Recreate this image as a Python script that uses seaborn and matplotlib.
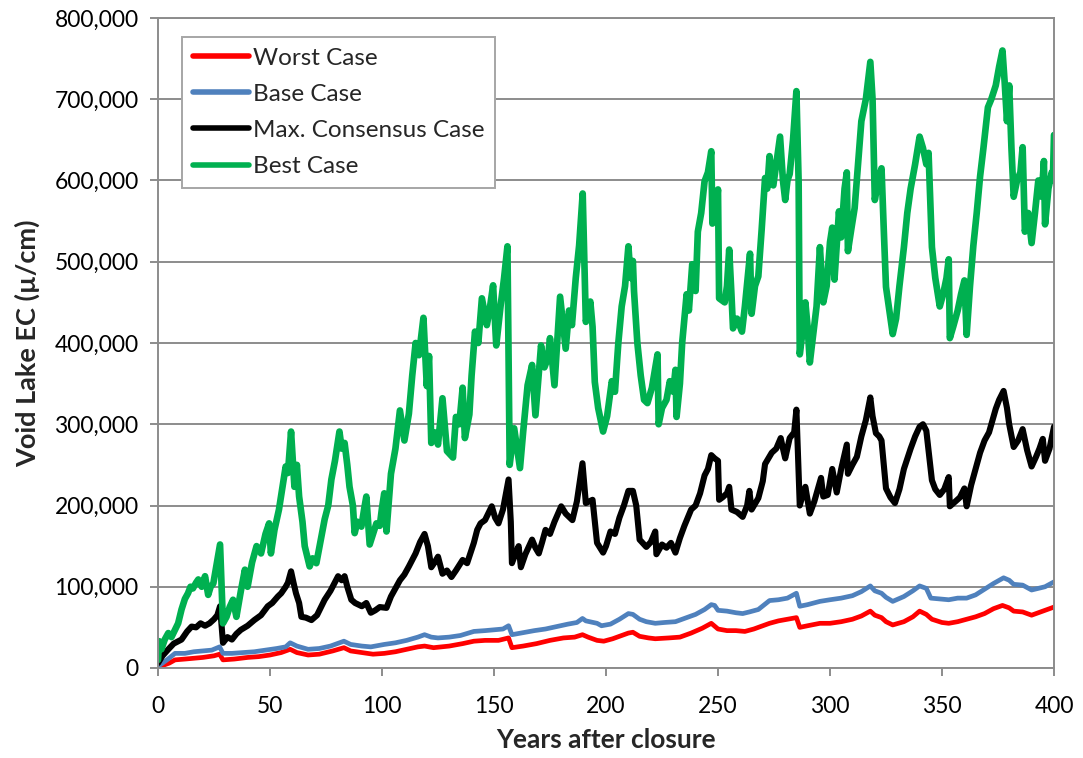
import matplotlib
matplotlib.use("Agg")
import matplotlib.pyplot as plt
import matplotlib.ticker as mticker
import seaborn as sns
import pandas as pd

# ---------------- data (thousands of µ/cm) ----------------
green_years = [0, 0.5, 1.5, 3, 4.6, 6, 7.6, 9, 10.5, 12, 13.4, 14.5, 15.6, 17, 18, 19.5, 21, 22.4, 23.5, 24.7,
               26, 27.7, 28.5, 29, 30.6, 32, 33.5, 35, 37, 38.8, 40, 42, 44, 46, 48, 49.6, 50.4, 52, 54, 55.6,
               57, 58, 59.4, 60.9, 62, 63, 64.5, 65.5, 67.7, 69, 70.7, 72.5, 74.4, 76, 77.4, 79, 81, 82, 83.3, 84.5,
               85.5, 87, 87.8, 89, 90.8, 92, 93, 94.5, 96, 97.5, 99, 100, 101, 102, 104, 106, 108, 110, 112, 113.5,
               115, 116.5, 118.5, 120, 121, 122, 123.5, 125, 127, 129, 131.7, 133, 134.5, 136, 137, 139, 140, 141.5, 143, 144.6,
               146.8, 148, 149.6, 151, 153, 154.5, 156, 157, 159, 161.6, 163, 165, 167, 168.5, 171, 172.5, 174, 175, 177, 179.5,
               182, 183.5, 184.8, 186.5, 188, 189.6, 191, 193, 194, 195, 196.5, 198.7, 200.5, 202.6, 204, 205.5, 207, 208.5, 210, 211,
               212, 212.5, 214, 215.5, 217, 218.5, 220.5, 222, 223, 223.5, 225, 227, 228.5, 230, 231, 231.5, 233, 234, 236, 237,
               238.5, 240, 241, 242.5, 244, 245.5, 247, 247.5, 249, 250, 250.5, 253, 254, 255, 256, 256.7, 258.5, 260.7, 262, 263,
               264.3, 265, 266.5, 268, 269.5, 271, 272, 273, 274.7, 276, 277.7, 279, 280, 281, 282, 283.5, 285, 286, 286.5, 288,
               289, 290, 291, 292.5, 294, 295.5, 297, 298.5, 300, 301, 302, 304, 305, 306.5, 307.5, 308, 309.5, 311, 312.5, 314,
               316, 318, 319, 320, 321.5, 323, 324, 325, 326.5, 328, 329.5, 331, 333, 334.5, 336, 338, 340, 341.5, 343, 344,
               345.5, 347, 349, 350.5, 352, 353, 353.5, 355, 357, 358.5, 360, 361, 362.5, 364, 365.5, 367, 368.5, 370.5, 372, 374,
               375.5, 377, 378, 379, 380, 381, 382, 383.5, 385, 386, 387, 388.5, 390, 391.5, 393, 394.5, 395.5, 396, 397.5, 399,
               399.5, 400]
green_vals = [10, 33, 23, 35, 43, 38, 47, 55, 72, 85, 92, 100, 98, 105, 109, 100, 113, 90, 100, 104,
              125, 152, 90, 55, 63, 75, 84, 63, 95, 121, 100, 130, 150, 141, 165, 178, 141, 170, 195, 223,
              248, 240, 291, 223, 250, 211, 180, 150, 125, 135, 129, 155, 183, 200, 232, 255, 291, 270, 277, 250,
              223, 200, 166, 180, 174, 195, 211, 152, 165, 178, 175, 197, 215, 168, 239, 270, 317, 280, 313, 360,
              400, 385, 431, 347, 384, 277, 290, 275, 332, 267, 259, 309, 300, 345, 283, 312, 360, 414, 400, 455,
              422, 440, 471, 397, 447, 480, 519, 250, 295, 246, 290, 348, 373, 311, 397, 370, 381, 406, 348, 457,
              393, 440, 422, 480, 520, 584, 426, 451, 420, 352, 320, 291, 310, 353, 340, 400, 445, 470, 519, 480,
              501, 464, 400, 360, 330, 326, 345, 370, 386, 300, 320, 330, 353, 340, 367, 309, 350, 400, 460, 440,
              497, 464, 537, 560, 599, 610, 636, 547, 560, 589, 455, 450, 470, 515, 460, 418, 430, 414, 445, 473,
              510, 436, 470, 482, 540, 603, 590, 630, 594, 620, 654, 600, 576, 600, 608, 650, 710, 598, 386, 420,
              450, 420, 376, 410, 445, 518, 450, 470, 524, 542, 478, 562, 530, 590, 610, 513, 540, 566, 620, 673,
              700, 746, 700, 576, 600, 615, 540, 469, 440, 411, 430, 470, 518, 560, 590, 620, 654, 640, 620, 634,
              518, 480, 445, 460, 480, 503, 406, 420, 440, 460, 477, 410, 470, 520, 560, 605, 640, 690, 700, 717,
              740, 760, 720, 673, 717, 640, 580, 600, 610, 641, 537, 560, 523, 560, 600, 580, 624, 546, 590, 610,
              600, 656]

black_years = [0, 2, 4.6, 7, 10.5, 13, 15, 17, 19, 21, 23, 25, 26.5, 27.7, 29, 31, 33, 35, 37, 40,
               43, 46, 49, 51, 53.5, 55, 57, 58, 59.4, 60.5, 61.6, 63, 64, 66, 68.5, 71, 74.4, 77, 80.4, 82,
               83.3, 84.5, 86.3, 88, 91, 93, 95, 97, 99, 102, 104, 106, 108, 110, 112, 115, 117, 119, 120.5, 122,
               123.5, 125, 127, 129, 131, 133, 136, 138, 141, 142.5, 144, 146, 149, 150.5, 152, 154, 156.5, 157.5, 158, 159.5,
               161, 162, 164, 167, 168.5, 170, 171.5, 173, 175, 177, 180, 182, 185, 187, 189.5, 191, 194, 196, 198.7, 200,
               202, 204, 206, 208, 210, 212, 213.5, 215, 218, 220, 222, 222.5, 225, 227, 229, 231, 233, 235, 238, 240,
               242, 244, 245.5, 247, 248.5, 250, 250.5, 252, 254, 255, 256, 258.5, 261, 263, 264, 265, 268, 270, 271, 272.5,
               274, 276, 278, 279, 280, 282, 284, 285, 286.5, 288, 289, 291, 293, 296, 297, 299, 301, 303, 305, 307.5,
               308, 310, 312, 314, 316, 318, 319, 320.5, 322, 323, 325, 327, 329, 331, 333, 336, 338, 340, 341.5, 343,
               345.5, 347, 349, 351, 353, 353.5, 356, 358, 360, 361, 363, 365, 367, 369, 371, 374, 375.5, 377.5, 379, 380,
               382, 384, 386, 388, 390, 392, 393.5, 395, 396, 398, 400]
black_vals = [6, 15, 23, 30, 35, 45, 51, 50, 55, 52, 55, 60, 65, 76, 31, 38, 35, 42, 47, 52,
              59, 65, 76, 80, 88, 92, 100, 105, 119, 105, 92, 80, 63, 62, 59, 65, 84, 95, 113, 108,
              113, 100, 84, 80, 76, 80, 68, 71, 75, 74, 88, 98, 108, 115, 125, 141, 155, 165, 150, 124,
              130, 137, 116, 120, 112, 120, 133, 129, 154, 170, 178, 182, 199, 185, 178, 195, 232, 180, 129, 140,
              150, 124, 140, 158, 148, 141, 155, 170, 165, 180, 199, 190, 182, 205, 252, 203, 207, 154, 142, 150,
              168, 165, 185, 200, 218, 218, 200, 158, 149, 155, 168, 140, 152, 148, 154, 142, 160, 175, 195, 200,
              215, 237, 245, 262, 258, 255, 207, 210, 215, 223, 195, 192, 186, 200, 218, 195, 209, 230, 251, 258,
              265, 270, 283, 270, 258, 283, 290, 318, 200, 215, 223, 190, 205, 234, 211, 213, 245, 216, 245, 275,
              239, 250, 260, 285, 305, 333, 310, 289, 285, 280, 221, 210, 203, 220, 245, 270, 285, 297, 300, 292,
              231, 220, 213, 220, 235, 199, 205, 210, 221, 199, 225, 245, 265, 280, 290, 319, 330, 341, 320, 300,
              272, 280, 294, 268, 248, 260, 270, 282, 255, 270, 297]

blue_years = [0, 2, 4, 7.6, 12, 16, 20, 24, 27.5, 29, 33, 38, 43, 48, 53, 57, 59, 62, 67, 72,
              77, 83, 86, 91, 95, 97, 101, 106, 111, 116, 119, 122, 125, 130, 135, 141, 146, 150, 154, 156.5,
              158, 162, 168, 173, 178, 183, 187, 189.5, 191, 196, 198, 202, 206, 210, 212, 215, 218, 222, 226, 231,
              236, 240, 244, 247, 248.5, 250, 254, 258, 261, 264, 268, 273, 277, 281, 285, 286.5, 290, 295.5, 300, 305,
              310, 314, 318, 320, 323, 325, 328, 333, 337, 340, 343, 345, 349, 353, 357, 361, 365, 369, 373, 377.5,
              380, 382, 386, 390, 393, 396, 400]
blue_vals = [2, 6, 10, 18, 18, 20, 21, 22, 26, 18, 18, 19, 20, 22, 24, 26, 31, 27, 23, 24,
             27, 33, 29, 27, 26, 27, 29, 31, 34, 38, 41, 38, 37, 38, 40, 45, 46, 47, 48, 52,
             41, 43, 46, 48, 51, 54, 56, 61, 58, 55, 52, 54, 60, 67, 66, 60, 57, 55, 56, 57,
             62, 66, 72, 78, 77, 71, 70, 68, 67, 69, 72, 83, 84, 86, 92, 76, 78, 82, 84, 86,
             89, 94, 101, 95, 92, 87, 82, 88, 95, 101, 98, 86, 85, 84, 86, 86, 90, 97, 104, 111,
             108, 103, 102, 96, 98, 100, 106]

red_years = [0, 2, 5, 7.6, 12, 16, 20, 25, 27.5, 29, 34, 40, 45, 50, 55, 59, 62, 67, 72, 78,
             83, 86, 91, 96, 101, 106, 111, 116, 119, 123, 130, 136, 141, 146, 152, 156.5, 158, 163, 169, 175,
             181, 186, 189.5, 192, 196, 199, 203, 207, 210, 212, 215, 219, 222, 228, 233, 238, 243, 247, 250, 254,
             258, 262, 266, 270, 273, 277, 281, 285, 286.5, 290, 295.5, 300, 305, 310, 314, 318, 320, 323, 325, 328,
             333, 337, 340, 343, 345.5, 350, 353, 357, 361, 365, 369, 373, 377, 380, 382, 386, 390, 395, 400]
red_vals = [1, 3, 6, 10, 11, 12, 13, 15, 17, 10, 11, 13, 14, 16, 19, 23, 19, 16, 17, 21,
            25, 21, 19, 17, 18, 20, 23, 26, 27, 25, 27, 30, 33, 34, 34, 37, 25, 27, 30, 34,
            37, 38, 41, 38, 34, 33, 36, 40, 43, 44, 39, 37, 36, 37, 38, 43, 49, 55, 48, 46,
            46, 45, 48, 52, 55, 58, 60, 62, 50, 52, 55, 55, 57, 60, 64, 70, 65, 62, 57, 53,
            57, 63, 70, 66, 60, 56, 55, 57, 60, 63, 67, 73, 77, 74, 70, 69, 65, 70, 75]

series_names = ["Worst Case", "Base Case", "Max. Consensus Case", "Best Case"]
series_colors = ["#FF0000", "#4F81BD", "#000000", "#00B050"]
x_ticks = [0, 50, 100, 150, 200, 250, 300, 350, 400]
y_ticks = [0, 100000, 200000, 300000, 400000, 500000, 600000, 700000, 800000]

# ---------------- plot ----------------
sns.set_style("white")
plt.rcParams["font.family"] = ["Lato", "DejaVu Sans"]

fig = plt.figure(figsize=(10.83, 7.58), dpi=100)
ax = fig.add_axes([158 / 1083, 1 - 668 / 758, 896 / 1083, 650 / 758])

all_data = [(red_years, red_vals), (blue_years, blue_vals),
            (black_years, black_vals), (green_years, green_vals)]
widths = [3.4, 3.4, 4.4, 4.8]
for (yrs, vals), name, col, lw in zip(all_data, series_names, series_colors, widths):
    df = pd.DataFrame({"year": yrs, "ec": [v * 1000 for v in vals]})
    sns.lineplot(data=df, x="year", y="ec", ax=ax, color=col, linewidth=lw,
                 label=name, sort=False, estimator=None,
                 solid_joinstyle="round", solid_capstyle="round")

ax.set_xlim(0, 400)
ax.set_ylim(0, 800000)
ax.set_xticks(x_ticks)
ax.set_yticks(y_ticks)
ax.yaxis.set_major_formatter(mticker.FuncFormatter(lambda v, p: f"{int(v):,}"))

grid_col = "#8C8C8C"
ax.grid(axis="y", color=grid_col, linewidth=1.4)
ax.grid(axis="x", visible=False)
ax.set_axisbelow(True)
for s in ax.spines.values():
    s.set_color(grid_col)
    s.set_linewidth(1.4)

ax.tick_params(axis="x", which="major", direction="out", length=6, width=1.4,
               color=grid_col, pad=14, labelsize=16.5, labelcolor="#000000")
ax.tick_params(axis="y", which="major", direction="out", length=6, width=1.4,
               color=grid_col, pad=8, labelsize=16.5, labelcolor="#000000")
ax.tick_params(bottom=True, left=True)

ax.set_xlabel("Years after closure", fontsize=19, fontweight="bold", labelpad=8)
ax.set_ylabel("Void Lake EC (\u00b5/cm)", fontsize=19.5, fontweight="bold", labelpad=10)

leg = ax.legend(loc="upper left", bbox_to_anchor=(0.027, 0.971), borderaxespad=0,
                frameon=True, fancybox=False, fontsize=17.5, handlelength=2.3,
                handletextpad=0.15, labelspacing=0.62, borderpad=0.45)
leg.get_frame().set_edgecolor("#A6A6A6")
leg.get_frame().set_linewidth(1.4)
leg.get_frame().set_facecolor("white")
leg.get_frame().set_alpha(1.0)
for h in leg.get_lines():
    h.set_linewidth(4)
    h.set_solid_capstyle("round")

fig.savefig("out.png", dpi=100, facecolor="white")
